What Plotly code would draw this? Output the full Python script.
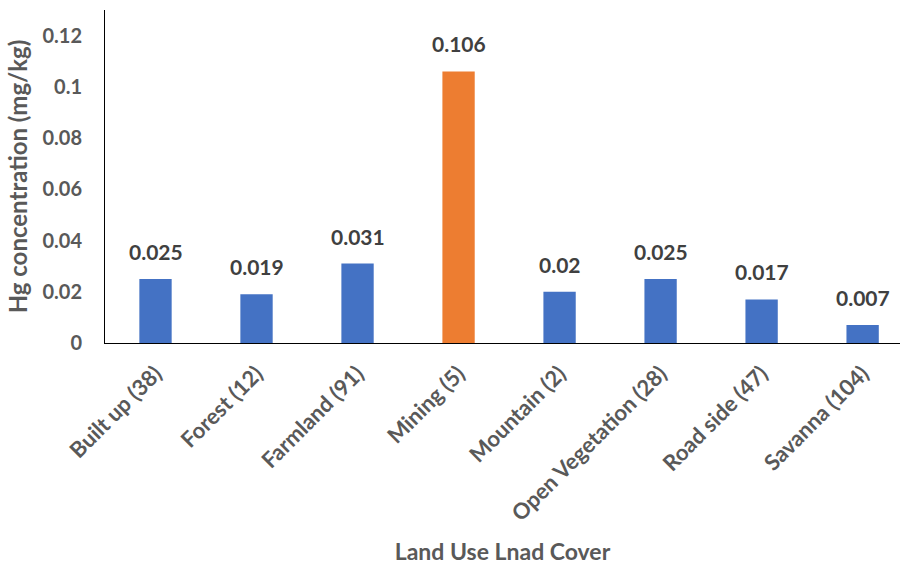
import plotly.graph_objects as go

categories = ["Built up (38)", "Forest (12)", "Farmland (91)", "Mining (5)",
              "Mountain (2)", "Open Vegetation (28)", "Road side (47)", "Savanna (104)"]
hg_values = [0.025, 0.019, 0.031, 0.106, 0.02, 0.025, 0.017, 0.007]
value_labels = ["0.025", "0.019", "0.031", "0.106", "0.02", "0.025", "0.017", "0.007"]
y_ticks = [0, 0.02, 0.04, 0.06, 0.08, 0.1, 0.12]
y_tick_text = ["0", "0.02", "0.04", "0.06", "0.08", "0.1", "0.12"]

BLUE = "#4472C4"
ORANGE = "#ED7D31"
bar_colors = [ORANGE if c.startswith("Mining") else BLUE for c in categories]

FONT = "Lato"
AXIS_GRAY = "#595959"
LABEL_GRAY = "#404040"

fig = go.Figure(go.Bar(
    x=categories,
    y=hg_values,
    marker=dict(color=bar_colors, line=dict(width=0)),
    width=0.32,
    hoverinfo="x+y",
))

for cat, val, txt in zip(categories, hg_values, value_labels):
    fig.add_annotation(
        x=cat, y=val, text=txt, showarrow=False,
        yanchor="bottom", yshift=13,
        font=dict(family=FONT, size=21, color=LABEL_GRAY, weight="bold"),
    )

fig.update_layout(
    width=900, height=565,
    margin=dict(l=105, r=0, t=10, b=222),
    paper_bgcolor="white", plot_bgcolor="white",
    showlegend=False,
    font=dict(family=FONT, color=AXIS_GRAY),
    xaxis=dict(
        range=[-0.5, 7.37],
        automargin=False,
        showline=True, linecolor="#000000", linewidth=1,
        showgrid=False, zeroline=False, ticks="",
        tickangle=-45,
        ticklabelstandoff=8,
        tickfont=dict(family=FONT, size=22, color=AXIS_GRAY, weight="bold"),
        title=dict(text="Land Use Lnad Cover", standoff=36,
                   font=dict(family=FONT, size=23, color=AXIS_GRAY, weight="bold")),
    ),
    yaxis=dict(
        range=[0, 0.13],
        automargin=False,
        showline=True, linecolor="#000000", linewidth=1,
        showgrid=False, zeroline=False, ticks="",
        tickvals=y_ticks, ticktext=y_tick_text,
        ticklabelstandoff=18,
        tickfont=dict(family=FONT, size=20, color=AXIS_GRAY, weight="bold"),
        title=dict(text="Hg concentration (mg/kg)", standoff=8,
                   font=dict(family=FONT, size=24, color=AXIS_GRAY, weight="bold")),
    ),
)

fig.write_html("out.html")
